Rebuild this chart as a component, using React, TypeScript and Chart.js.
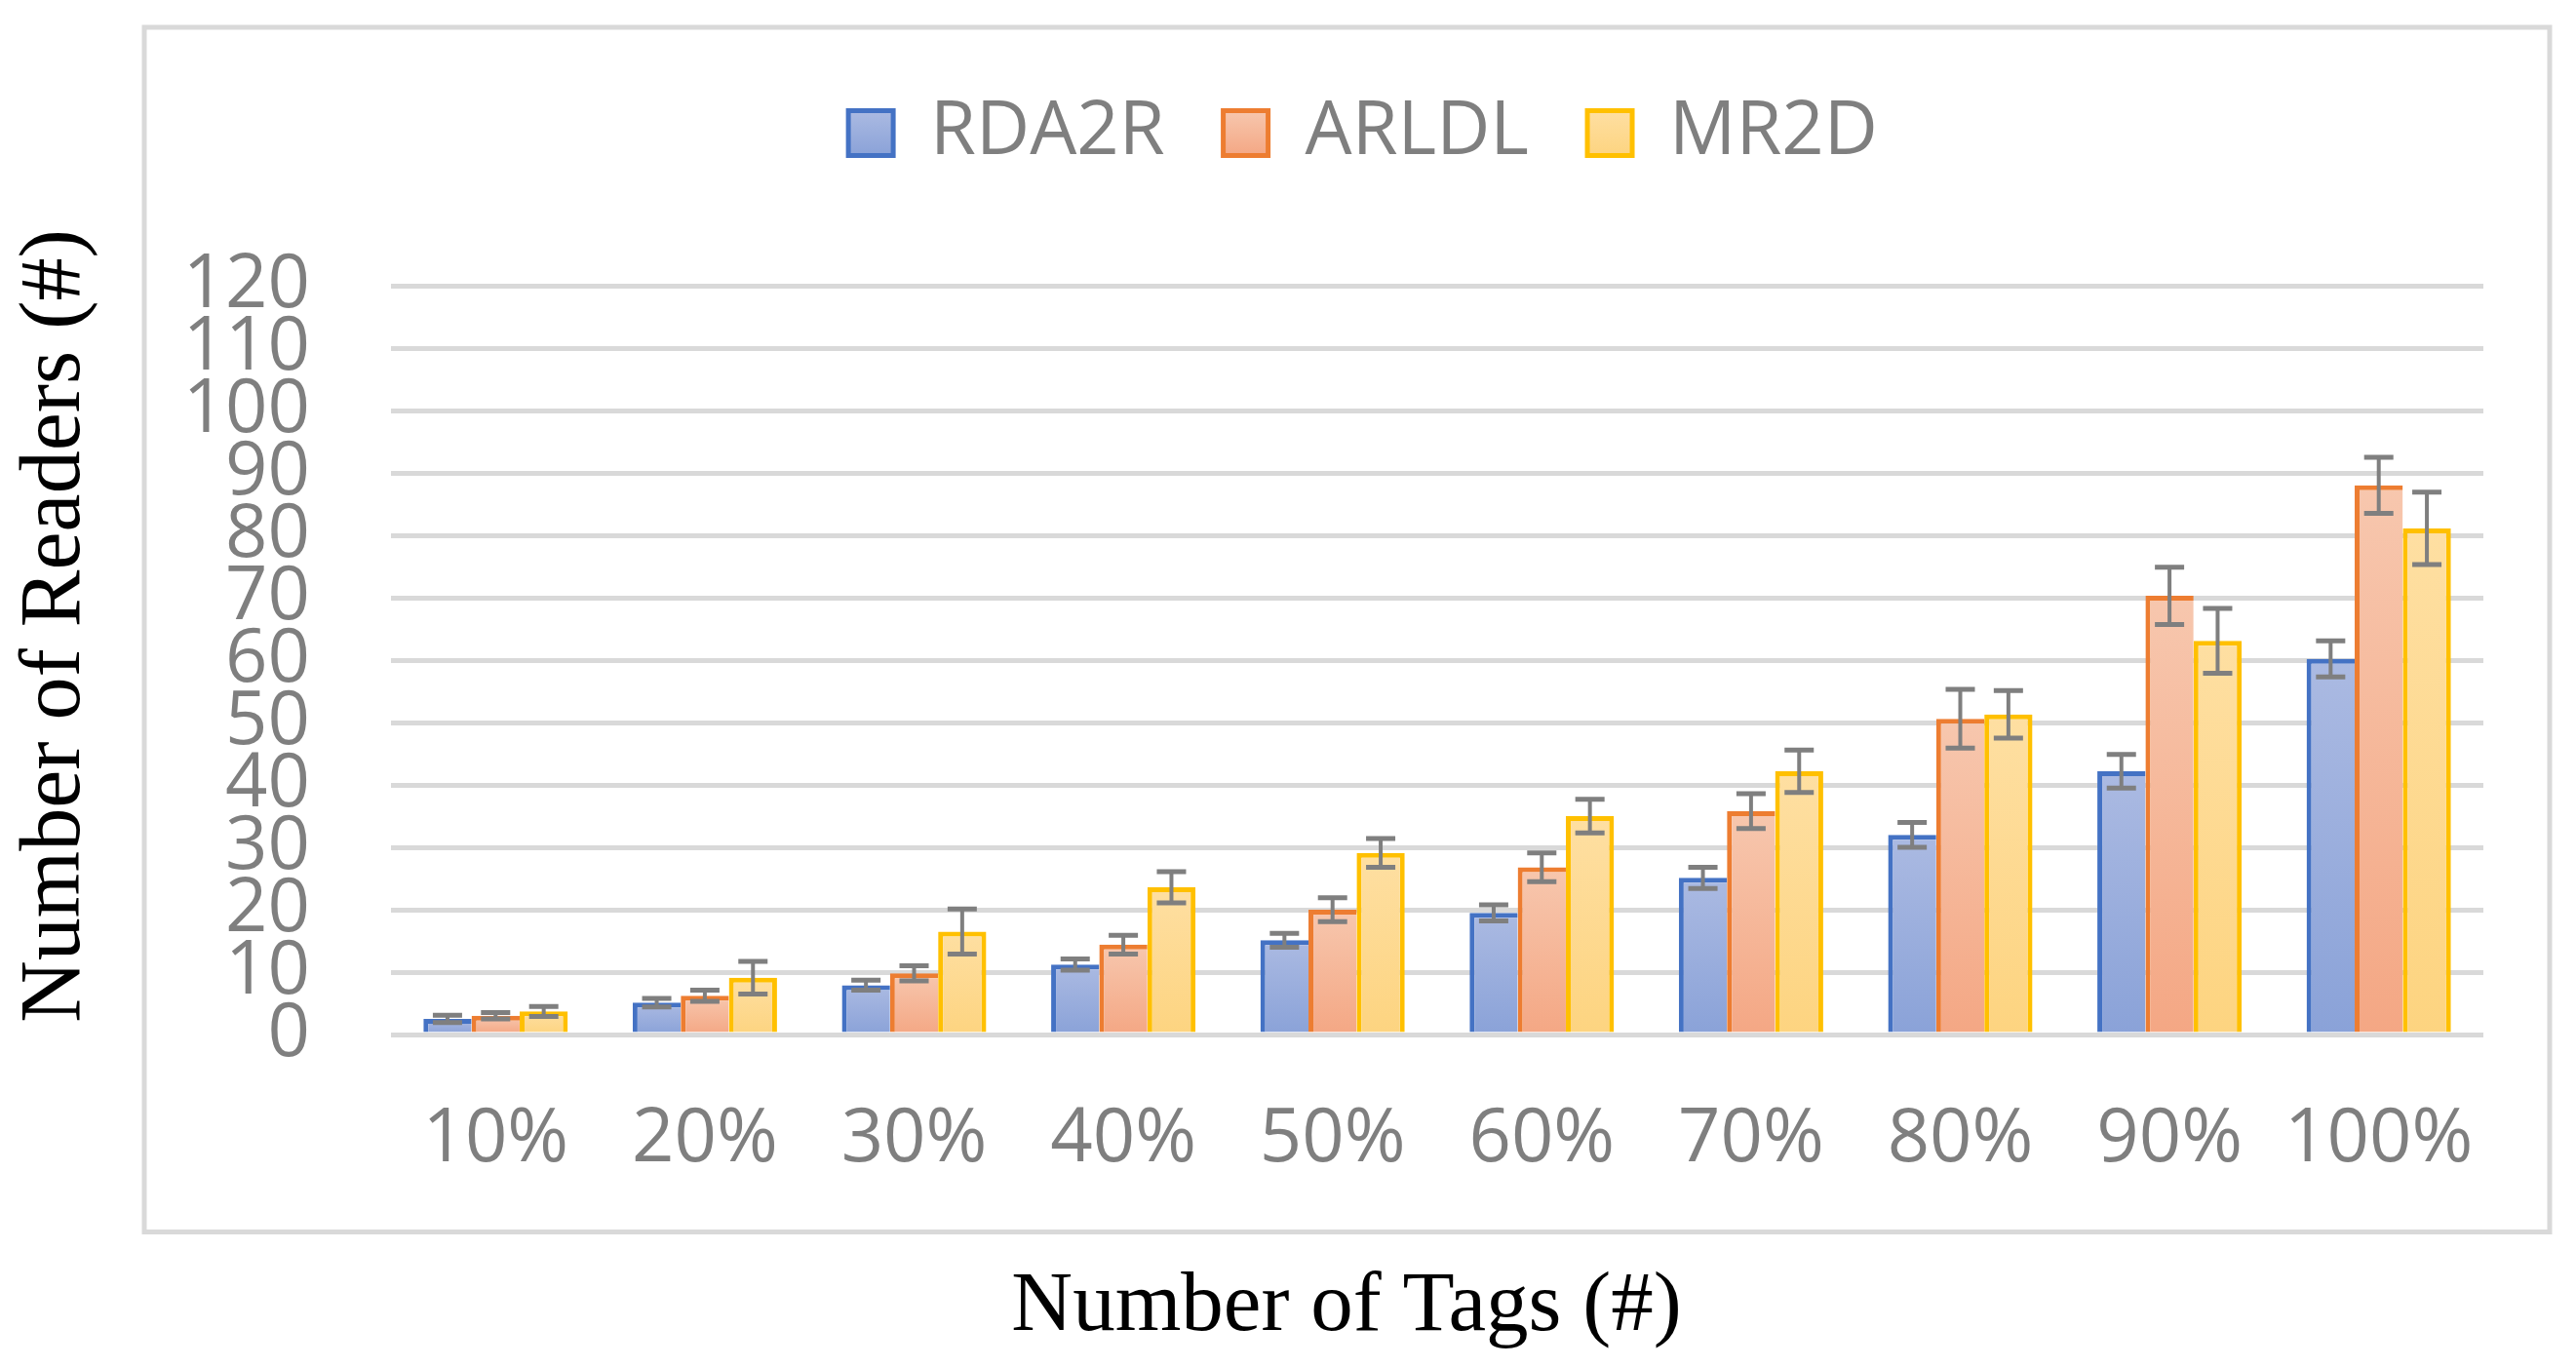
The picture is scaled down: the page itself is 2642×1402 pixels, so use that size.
import React, { useEffect, useRef } from 'react';
import { Chart, registerables } from 'chart.js';

Chart.register(...registerables);

// ---- data ----
const categories = ['10%', '20%', '30%', '40%', '50%', '60%', '70%', '80%', '90%', '100%'];
const seriesNames = ['RDA2R', 'ARLDL', 'MR2D'];
const rda2r = [2.5, 5.1, 7.9, 11.2, 15.1, 19.5, 25.1, 32.0, 42.2, 60.2];
const rda2rErr = [0.6, 0.7, 0.8, 0.9, 1.1, 1.3, 1.7, 2.0, 2.7, 2.9];
const arldl = [3.0, 6.2, 9.8, 14.4, 20.0, 26.8, 35.8, 50.6, 70.3, 88.0];
const arldlErr = [0.5, 0.9, 1.2, 1.5, 1.9, 2.3, 2.8, 4.7, 4.6, 4.5];
const mr2d = [3.7, 9.1, 16.5, 23.6, 29.1, 35.0, 42.2, 51.3, 63.1, 81.1];
const mr2dErr = [0.8, 2.6, 3.6, 2.5, 2.3, 2.7, 3.4, 3.8, 5.2, 5.8];
const yMin = 0;
const yMax = 120;
const yStep = 10;
const xTitle = 'Number of Tags (#)';
const yTitle = 'Number of Readers (#)';

// ---- styles / layout ----
const W = 2642;
const H = 1402;
const TICK_FONT = '"Open Sans", "Noto Sans", sans-serif';
const TITLE_FONT = '"Liberation Serif", "Times New Roman", serif';
const GREY = '#7f7f7f';
const GRID = '#d9d9d9';
const borders = ['#4472c4', '#ed7d31', '#ffc000'];
const gradTop = ['#abbae2', '#f7c7ae', '#fedfa2'];
const gradBottom = ['#8aa2d8', '#f4a784', '#fdd480'];
const PLOT_LEFT = 401;
const PLOT_RIGHT = 2547;
const PLOT_TOP = 293;
const PLOT_BOTTOM = 1061;
const LEGEND_CENTER_X = 1398;
const LEGEND_TOP = 38.5;
const LEGEND_BOX_TOP = 113.5;
const LEGEND_BOX = 46;
const LEGEND_PAD = 60;
const X_TITLE_CENTER_X = 1381;
const Y_TITLE_CENTER_Y = 642;
const Y_TITLE_SIZE = 88;
const X_TITLE_SIZE = 87;
const PAD_LEFT = 5.2;
const PAD_BOTTOM = 8.2;

const barGradient = (i: number) => (ctx: any) => {
  const chart = ctx.chart;
  const y = chart.scales && chart.scales.y;
  if (ctx.type !== 'data' || !y || typeof ctx.raw !== 'number') return gradBottom[i];
  const y0 = y.getPixelForValue(ctx.raw);
  const y1 = y.getPixelForValue(0);
  if (!isFinite(y0) || !isFinite(y1) || Math.abs(y1 - y0) < 1) return gradBottom[i];
  const g = chart.ctx.createLinearGradient(0, y0, 0, y1);
  g.addColorStop(0, gradTop[i]);
  g.addColorStop(1, gradBottom[i]);
  return g;
};

const framePlugin = {
  id: 'frame',
  beforeDraw(chart: any) {
    const { ctx } = chart;
    ctx.save();
    ctx.fillStyle = '#ffffff';
    ctx.fillRect(0, 0, chart.width, chart.height);
    ctx.strokeStyle = GRID;
    ctx.lineWidth = 5;
    ctx.strokeRect(148, 28, 2615 - 148, 1263.5 - 28);
    ctx.restore();
  },
};

// places legend and the two titles the way the original chart object does
const placeBoxesPlugin = {
  id: 'placeBoxes',
  afterLayout(chart: any) {
    const l = chart.legend;
    if (l) {
      const dx = LEGEND_CENTER_X - (l.left + l.right) / 2;
      l.left += dx;
      l.right += dx;
      const h = l.bottom - l.top;
      l.top = LEGEND_TOP;
      l.bottom = LEGEND_TOP + h;
    }
    const yt = chart.titleBlock;
    if (yt) {
      const dy = Y_TITLE_CENTER_Y - (yt.top + yt.bottom) / 2;
      yt.top += dy;
      yt.bottom += dy;
    }
    const xt = (chart.boxes || []).find(
      (b: any) => b !== chart.titleBlock && b !== chart.legend && !b.axis && b.options && b.options.position === 'bottom'
    );
    if (xt) {
      const dx = X_TITLE_CENTER_X - (xt.left + xt.right) / 2;
      xt.left += dx;
      xt.right += dx;
    }
  },
};

const errorBarPlugin = {
  id: 'errorBars',
  afterDatasetsDraw(chart: any) {
    const { ctx } = chart;
    const y = chart.scales.y;
    ctx.save();
    ctx.strokeStyle = GREY;
    chart.data.datasets.forEach((ds: any, i: number) => {
      const meta = chart.getDatasetMeta(i);
      if (meta.hidden) return;
      meta.data.forEach((bar: any, j: number) => {
        const v = ds.data[j];
        const e = ds.errors[j];
        const x = bar.x;
        const yHi = y.getPixelForValue(v + e);
        const yLo = y.getPixelForValue(v - e);
        ctx.lineWidth = 4;
        ctx.beginPath();
        ctx.moveTo(x, yHi);
        ctx.lineTo(x, yLo);
        ctx.stroke();
        ctx.lineWidth = 5;
        ctx.beginPath();
        ctx.moveTo(x - 15, yHi);
        ctx.lineTo(x + 15, yHi);
        ctx.moveTo(x - 15, yLo);
        ctx.lineTo(x + 15, yLo);
        ctx.stroke();
      });
    });
    ctx.restore();
  },
};

export default function App() {
  const canvasRef = useRef<HTMLCanvasElement | null>(null);

  useEffect(() => {
    let chart: Chart | null = null;
    let cancelled = false;
    const make = () => {
      if (cancelled || !canvasRef.current) return;
      const values = [rda2r, arldl, mr2d];
      const errs = [rda2rErr, arldlErr, mr2dErr];
      const yTitleWidth = Y_TITLE_SIZE * 1.2;
      const xTitleHeight = X_TITLE_SIZE * 1.2;
      chart = new Chart(canvasRef.current, {
        type: 'bar',
        data: {
          labels: categories,
          datasets: seriesNames.map((name, i) => ({
            label: name,
            data: values[i],
            errors: errs[i],
            backgroundColor: barGradient(i),
            borderColor: borders[i],
            borderWidth: i === 2 ? { top: 5, left: 5, right: 5, bottom: 0 } : { top: 5, left: 5, right: 0, bottom: 0 },
            borderSkipped: false,
            categoryPercentage: 0.69,
            barPercentage: 1.0,
          })) as any,
        },
        options: {
          animation: false,
          responsive: true,
          maintainAspectRatio: false,
          devicePixelRatio: 1,
          layout: { padding: { left: PAD_LEFT, top: LEGEND_TOP, right: W - PLOT_RIGHT, bottom: PAD_BOTTOM } },
          plugins: {
            tooltip: { enabled: false },
            title: {
              display: true,
              position: 'left',
              text: yTitle,
              color: '#000000',
              font: { family: TITLE_FONT, size: Y_TITLE_SIZE, weight: 'normal' },
              padding: 0,
            },
            subtitle: {
              display: true,
              position: 'bottom',
              text: xTitle,
              color: '#000000',
              font: { family: TITLE_FONT, size: X_TITLE_SIZE, weight: 'normal' },
              padding: 0,
            },
            legend: {
              display: true,
              position: 'top',
              labels: {
                font: { family: TICK_FONT, size: 76 },
                color: GREY,
                boxWidth: LEGEND_BOX,
                boxHeight: LEGEND_BOX,
                padding: LEGEND_PAD,
                generateLabels: (c: any) =>
                  c.data.datasets.map((ds: any, i: number) => {
                    const g = c.ctx.createLinearGradient(0, LEGEND_BOX_TOP, 0, LEGEND_BOX_TOP + LEGEND_BOX);
                    g.addColorStop(0, gradTop[i]);
                    g.addColorStop(1, gradBottom[i]);
                    return {
                      text: ds.label,
                      fillStyle: g,
                      strokeStyle: borders[i],
                      lineWidth: 5,
                      hidden: false,
                      datasetIndex: i,
                      fontColor: GREY,
                    };
                  }),
              },
            },
          },
          scales: {
            x: {
              type: 'category',
              offset: true,
              grid: { display: false, drawTicks: false },
              border: { display: false },
              ticks: {
                font: { family: TICK_FONT, size: 76 },
                color: GREY,
                padding: 63,
                maxRotation: 0,
                autoSkip: false,
              },
              afterFit: (s: any) => {
                s.height = H - PAD_BOTTOM - xTitleHeight - PLOT_BOTTOM;
                s.paddingLeft = 0;
                s.paddingRight = 0;
              },
            },
            y: {
              min: yMin,
              max: yMax,
              grid: { color: GRID, lineWidth: 5, drawTicks: false },
              border: { display: false },
              ticks: {
                stepSize: yStep,
                autoSkip: false,
                font: { family: TICK_FONT, size: 76 },
                color: GREY,
                padding: 83,
              },
              afterFit: (s: any) => {
                s.width = PLOT_LEFT - PAD_LEFT - yTitleWidth;
                s.paddingTop = PLOT_TOP;
                s.paddingBottom = 0;
              },
            },
          },
        } as any,
        plugins: [framePlugin, placeBoxesPlugin, errorBarPlugin],
      });
    };
    const fonts: any = (document as any).fonts;
    if (fonts && fonts.load) {
      Promise.all([
        fonts.load('76px "Open Sans"'),
        fonts.load('88px "Liberation Serif"'),
      ]).then(make, make);
    } else {
      make();
    }
    return () => {
      cancelled = true;
      if (chart) chart.destroy();
    };
  }, []);

  return (
    <div style={{ position: 'absolute', left: 0, top: 0, width: W, height: H, background: '#fff' }}>
      <canvas ref={canvasRef} />
    </div>
  );
}
